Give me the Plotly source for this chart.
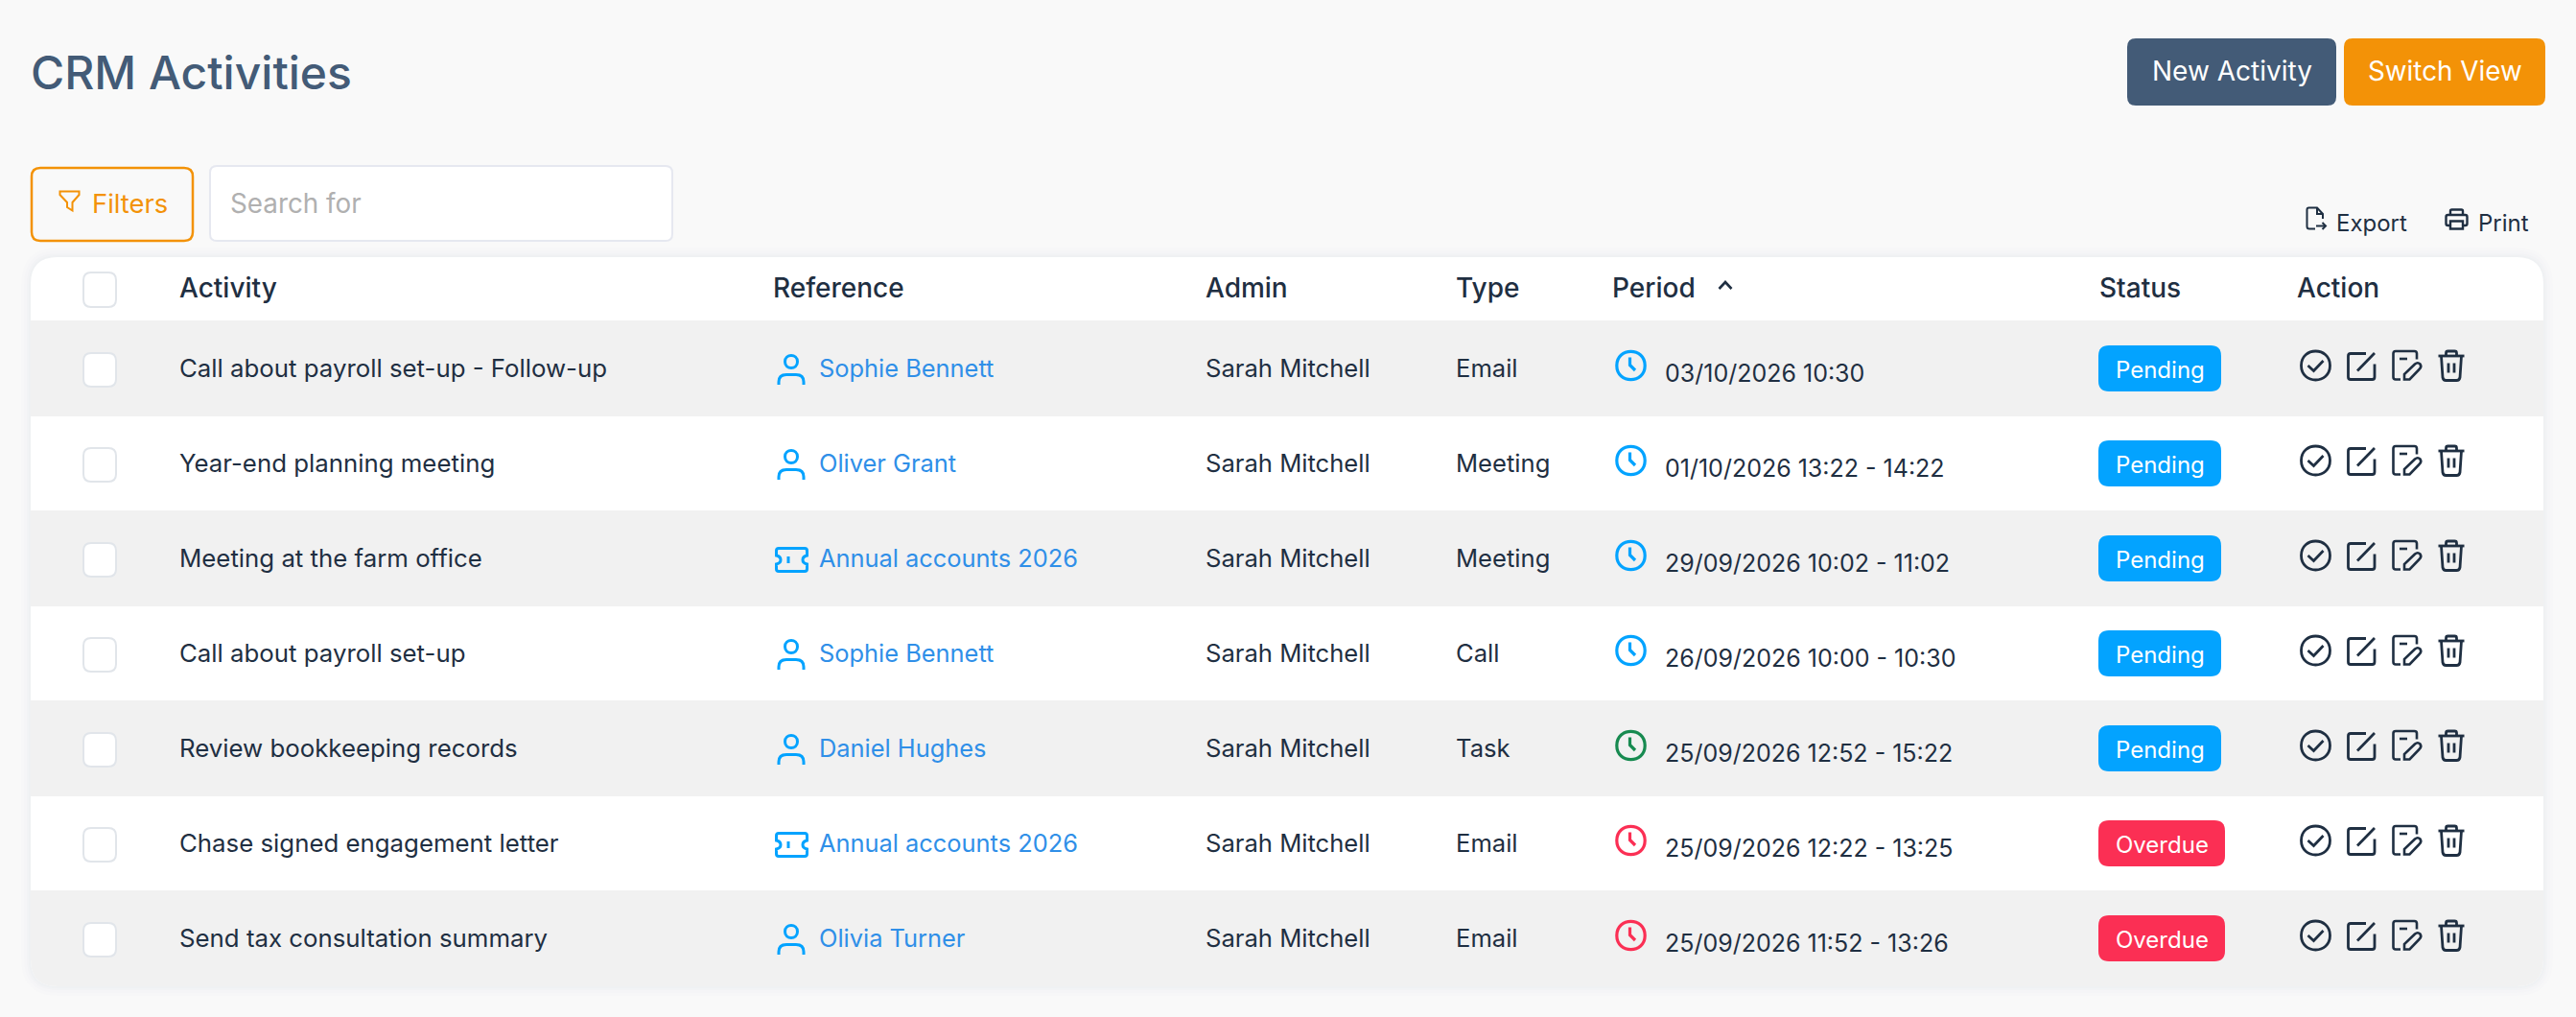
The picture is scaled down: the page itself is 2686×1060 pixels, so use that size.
import re

import plotly.graph_objects as go

# table content
activities = ["Call about payroll set-up - Follow-up", "Year-end planning meeting", "Meeting at the farm office",
              "Call about payroll set-up", "Review bookkeeping records", "Chase signed engagement letter",
              "Send tax consultation summary"]
references = ["Sophie Bennett", "Oliver Grant", "Annual accounts 2026", "Sophie Bennett", "Daniel Hughes",
              "Annual accounts 2026", "Olivia Turner"]
reference_kinds = ["person", "person", "job", "person", "person", "job", "person"]
admins = ["Sarah Mitchell"] * 7
types = ["Email", "Meeting", "Meeting", "Call", "Task", "Email", "Email"]
periods = ["03/10/2026 10:30", "01/10/2026 13:22 - 14:22", "29/09/2026 10:02 - 11:02", "26/09/2026 10:00 - 10:30",
           "25/09/2026 12:52 - 15:22", "25/09/2026 12:22 - 13:25", "25/09/2026 11:52 - 13:26"]
clock_states = ["future", "future", "future", "future", "today", "late", "late"]
statuses = ["Pending", "Pending", "Pending", "Pending", "Pending", "Overdue", "Overdue"]
headers = ["Activity", "Reference", "Admin", "Type", "Period", "Status", "Action"]

# layout in page pixels
W, H = 2686, 1060
ROW_EDGES = [334, 434, 532, 632, 730, 830, 928, 1028]
ROW_MID = [384, 483, 582, 681, 780, 879, 978]
HEADER_X = [187, 806, 1257, 1518, 1681, 2189, 2395]
FONT = "Inter"

INK = "#1f2f42"
BLUE = "#03a3ff"
LINK = "#2f8fe8"
RED = "#fb2f54"
GREEN = "#178a50"
ORANGE = "#f39207"
SLATE = "#435b77"
CLOCK_COLOURS = {"future": BLUE, "today": GREEN, "late": RED}
BADGE_COLOURS = {"Pending": BLUE, "Overdue": RED}
BADGE_WIDTHS = {"Pending": 128, "Overdue": 132}

USER = ["M 2 32 L 2 29 C 2 24 5 21.5 10 21.5 L 20 21.5 C 25 21.5 28 24 28 29 L 28 32",
        "M 8.5 8 C 8.5 -0.7 21.5 -0.7 21.5 8 C 21.5 16.7 8.5 16.7 8.5 8 Z"]
TICKET = ["M 4 1.5 L 31 1.5 Q 33.5 1.5 33.5 4 L 33.5 9 Q 29 10 29 13.5 Q 29 17 33.5 18 L 33.5 23 Q 33.5 25.5 31 25.5 "
          "L 4 25.5 Q 1.5 25.5 1.5 23 L 1.5 18 Q 6 17 6 13.5 Q 6 10 1.5 9 L 1.5 4 Q 1.5 1.5 4 1.5 Z",
          "M 14 10 L 14 17"]
CLOCK = ["M 1.8 16.5 C 1.8 -3 31.2 -3 31.2 16.5 C 31.2 36 1.8 36 1.8 16.5 Z", "M 15.5 8 L 15.5 16 L 21 21.5"]
CHECK = ["M 1.5 16.5 C 1.5 -3.5 31.5 -3.5 31.5 16.5 C 31.5 36.5 1.5 36.5 1.5 16.5 Z",
         "M 8.5 16.5 L 14.5 22 L 24.5 11.5"]
EDIT = ["M 20 2.5 L 4 2.5 Q 1.5 2.5 1.5 5 L 1.5 27 Q 1.5 29.5 4 29.5 L 26.5 29.5 Q 29 29.5 29 27 L 29 13.5",
        "M 11 20.5 L 29 2"]
NOTE = ["M 9 31 L 4 31 Q 1.5 31 1.5 28.5 L 1.5 4 Q 1.5 1.5 4 1.5 L 23.5 1.5 Q 26 1.5 26 4 L 26 10",
        "M 8 9.5 L 16 9.5",
        "M 13 31 L 13 25.5 L 24 15 Q 27 12.5 29.5 15 Q 31.5 18 28.5 20.5 L 18.5 31 Z"]
TRASH = ["M 9 6 L 9 3.5 Q 9 1.5 11 1.5 L 18 1.5 Q 20 1.5 20 3.5 L 20 6", "M 1 6.5 L 28 6.5",
         "M 4 6.5 L 5.5 29 Q 6 32 9 32 L 20 32 Q 23 32 23.5 29 L 25 6.5", "M 11.5 14 L 11.5 24", "M 17.5 14 L 17.5 24"]
FUNNEL = ["M 1.5 1.5 L 21.5 1.5 L 21.5 5 L 14.5 13 L 14.5 21.5 L 9 18 L 9 13 L 1.5 5 Z"]
EXPORT = ["M 10 23.5 L 4 23.5 Q 1.5 23.5 1.5 21 L 1.5 3.5 Q 1.5 1.5 3.5 1.5 L 12 1.5 L 18 8 L 18 13",
          "M 12 1.5 L 12 8 L 18 8", "M 11 20.5 L 21 20.5", "M 17.5 17 L 21 20.5 L 17.5 24"]
PRINTER = ["M 6 7 L 6 3 Q 6 1.5 7.5 1.5 L 17.5 1.5 Q 19 1.5 19 3 L 19 7",
           "M 6 18 L 3.5 18 Q 1.5 18 1.5 16 L 1.5 9 Q 1.5 7 3.5 7 L 21.5 7 Q 23.5 7 23.5 9 L 23.5 16 Q 23.5 18 21.5 18 L 19 18",
           "M 6 13.5 L 19 13.5 L 19 21.5 L 6 21.5 Z"]
CHEVRON = ["M 1.5 9 L 8 2 L 14.5 9"]


def rounded(x0, y0, x1, y1, r):
    return (f"M {x0 + r} {y0} L {x1 - r} {y0} Q {x1} {y0} {x1} {y0 + r} L {x1} {y1 - r} Q {x1} {y1} {x1 - r} {y1} "
            f"L {x0 + r} {y1} Q {x0} {y1} {x0} {y1 - r} L {x0} {y0 + r} Q {x0} {y0} {x0 + r} {y0} Z")


def box(x0, y0, x1, y1, r=0, fill="white", line=None, width=0, layer="below"):
    fig.add_shape(type="path", path=rounded(x0, y0, x1, y1, r), fillcolor=fill, layer=layer,
                  line=dict(color=line or fill, width=width))


def icon(parts, x, y, colour, width=3):
    # icon parts are drawn in their own small pixel box, moved to x, y here
    for part in parts:
        numbers = iter(re.findall(r"-?\d+\.?\d*", part))
        moved = re.sub(r"-?\d+\.?\d*\s+-?\d+\.?\d*",
                       lambda m: f"{float(next(numbers)) + x} {float(next(numbers)) + y}", part)
        fig.add_shape(type="path", path=moved, line=dict(color=colour, width=width), layer="above")


def label(text, x, y, size, colour, weight=400, anchor="left"):
    fig.add_annotation(x=x, y=y, text=text, showarrow=False, xanchor=anchor, yanchor="middle", xref="x", yref="y",
                       borderpad=0, borderwidth=0, font=dict(family=FONT, size=size, color=colour, weight=weight))


def column(x, y, values, colour, size=25.6):
    fig.add_trace(go.Scatter(x=[x] * len(values), y=y, text=values, mode="text", textposition="middle right",
                             textfont=dict(family=FONT, size=size, color=colour), hoverinfo="skip",
                             cliponaxis=False))


fig = go.Figure()

# soft shadow then the card
for spread, alpha in [(10, 0.006), (7, 0.008), (4, 0.01), (2, 0.012)]:
    box(32 - spread, 268 - spread, 2652 + spread, 1028 + spread, 28 + spread, fill=f"rgba(40,50,70,{alpha})")
box(32, 268, 2652, 1028, 28)
for i in range(len(activities)):
    if i % 2 == 0 and i < 6:
        fig.add_shape(type="rect", x0=32, x1=2652, y0=ROW_EDGES[i], y1=ROW_EDGES[i + 1], fillcolor="#f1f1f1",
                      line_width=0, layer="below")
fig.add_shape(type="path", path="M 32 928 L 2652 928 L 2652 1000 Q 2652 1028 2624 1028 L 60 1028 Q 32 1028 32 1000 Z",
              fillcolor="#f1f1f1", line_width=0, layer="below")

# page header
label("CRM Activities", 32, 75, 48, SLATE, 500)
box(2218, 40, 2436, 110, 9, fill=SLATE)
box(2444, 40, 2654, 110, 9, fill=ORANGE)
label("New Activity", 2327, 74, 28, "white", anchor="center")
label("Switch View", 2549, 74, 27.8, "white", anchor="center")

# filter row
box(33, 175, 201, 251, 9, fill="#f9f9f9", line=ORANGE, width=2.5)
icon(FUNNEL, 61, 198, ORANGE, 2)
label("Filters", 96, 212, 27.4, ORANGE)
box(219, 173, 701, 251, 7, line="#e6e8f0", width=2)
label("Search for", 240, 212, 27.8, "#b0b0b0")
icon(EXPORT, 2404, 215, INK, 2)
label("Export", 2436, 232, 24, INK)
icon(PRINTER, 2549, 217, INK, 2.4)
label("Print", 2584, 232, 24, INK)

# table header
box(87, 284, 121, 320, 8, line="#e1e5ea", width=2, layer="above")
for text, x in zip(headers, HEADER_X):
    label(text, x, 300, 28, INK, 500)
icon(CHEVRON, 1791, 292, INK, 2.6)

# body cells
text_y = [m + 2.5 for m in ROW_MID]
column(187, text_y, activities, INK, 25.8)
column(854, text_y, references, LINK, 25.4)
column(1257, text_y, admins, INK)
column(1518, text_y, types, INK)
column(1736, [m + 8 for m in ROW_MID], periods, INK, 25)

for i, mid in enumerate(ROW_MID):
    box(87, mid - 16, 121, mid + 19, 8, line="#e1e5ea", width=2, layer="above")
    if reference_kinds[i] == "person":
        icon(USER, 810, mid - 15, BLUE)
    else:
        icon(TICKET, 808, mid - 12, BLUE)
    icon(CLOCK, 1684, mid - 19.5, CLOCK_COLOURS[clock_states[i]], 3.2)
    status = statuses[i]
    box(2188, mid - 24, 2188 + BADGE_WIDTHS[status], mid + 24, 11, fill=BADGE_COLOURS[status], layer="above")
    label(status, 2188 + BADGE_WIDTHS[status] / 2, mid + 1, 24, "white", anchor="center")
    icon(CHECK, 2398, mid - 19.5, INK, 2.8)
    icon(EDIT, 2447, mid - 18, INK, 2.8)
    icon(NOTE, 2494, mid - 19.5, INK, 2.6)
    icon(TRASH, 2541.5, mid - 19.5, INK, 2.8)

fig.update_xaxes(range=[0, W], visible=False, fixedrange=True)
fig.update_yaxes(range=[H, 0], visible=False, fixedrange=True)
fig.update_layout(width=W, height=H, margin=dict(l=0, r=0, t=0, b=0), paper_bgcolor="#f9f9f9",
                  plot_bgcolor="#f9f9f9", showlegend=False)
fig.write_html("out.html", config=dict(displayModeBar=False),
               post_script="document.body.style.margin='0';document.body.style.overflow='hidden';")
